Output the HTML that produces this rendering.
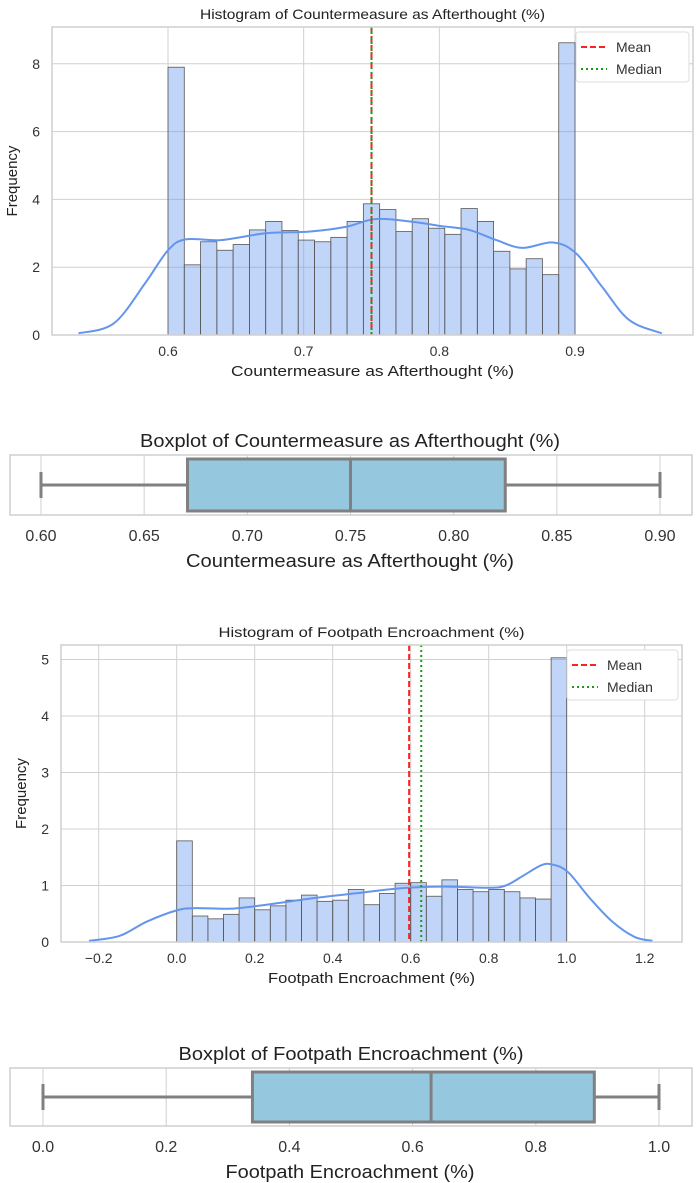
<!DOCTYPE html>
<html><head><meta charset="utf-8">
<style>
html,body{margin:0;padding:0;background:#fff;}
svg{display:block;font-family:"Liberation Sans",Arial,sans-serif;}
</style></head>
<body>
<svg id="c" width="696" height="1183" viewBox="0 0 696 1183"></svg>
<script>
// ---- Data: Countermeasure as Afterthought ----
const h1Counts = [7.9,2.07,2.75,2.5,2.67,3.1,3.35,3.08,2.8,2.75,2.88,3.35,3.87,3.7,3.05,3.43,3.15,2.97,3.73,3.35,2.47,1.95,2.25,1.78,8.62];
const h1KdeX = [0.534,0.560,0.583,0.600,0.613,0.639,0.672,0.704,0.731,0.753,0.780,0.802,0.822,0.842,0.861,0.884,0.901,0.920,0.940,0.964];
const h1KdeY = [0.05,0.34,1.52,2.5,2.82,2.8,3.0,3.05,3.19,3.42,3.34,3.21,3.1,2.8,2.57,2.73,2.4,1.42,0.44,0.05];
const h1XTicks = [0.6,0.7,0.8,0.9];
const h1YTicks = [0,2,4,6,8];
const h1Stats = [0.75,0.75]; // mean, median
const b1Stats = [0.6,0.671,0.75,0.825,0.9]; // min,q1,med,q3,max
const b1Ticks = ["0.60","0.65","0.70","0.75","0.80","0.85","0.90"];
// ---- Data: Footpath Encroachment ----
const h2Counts = [1.79,0.46,0.41,0.49,0.78,0.57,0.64,0.74,0.83,0.72,0.74,0.93,0.66,0.86,1.04,1.05,0.81,1.10,0.93,0.89,0.93,0.89,0.78,0.76,5.03];
const h2KdeX = [-0.225,-0.146,-0.077,0,0.048,0.139,0.23,0.344,0.457,0.571,0.685,0.799,0.844,0.89,0.935,0.964,1.003,1.06,1.117,1.174,1.22];
const h2KdeY = [0.02,0.11,0.36,0.56,0.6,0.59,0.66,0.77,0.86,0.95,0.98,0.96,1.0,1.18,1.36,1.37,1.24,0.77,0.36,0.09,0.02];
const h2XTicks = ["-0.2","0.0","0.2","0.4","0.6","0.8","1.0","1.2"];
const h2YTicks = [0,1,2,3,4,5];
const h2Stats = [0.596,0.627];
const b2Stats = [0,0.34,0.63,0.895,1.0];
const b2Ticks = ["0.0","0.2","0.4","0.6","0.8","1.0"];

const NS="http://www.w3.org/2000/svg";
const svg=document.getElementById('c');
function el(tag,attrs,parent,text){const e=document.createElementNS(NS,tag);for(const k in attrs)e.setAttribute(k,attrs[k]);if(text!==undefined)e.textContent=text;(parent||svg).appendChild(e);return e;}
function smooth(pts){
  let d='M'+pts[0][0]+','+pts[0][1];
  for(let i=0;i<pts.length-1;i++){
    const p0=pts[i-1]||pts[i],p1=pts[i],p2=pts[i+1],p3=pts[i+2]||p2;
    const c1=[p1[0]+(p2[0]-p0[0])/6,p1[1]+(p2[1]-p0[1])/6];
    const c2=[p2[0]-(p3[0]-p1[0])/6,p2[1]-(p3[1]-p1[1])/6];
    d+=` C${c1[0]},${c1[1]} ${c2[0]},${c2[1]} ${p2[0]},${p2[1]}`;
  }
  return d;
}

function hist(cfg,counts,kx,ky,xt,yt,stats,name){
  const g=el('g',{});
  
  
  const X=v=>cfg.x0+(v-cfg.v0)*cfg.kx, Y=v=>cfg.y0-v*cfg.ky;
  el('rect',{x:cfg.L,y:cfg.T,width:cfg.R-cfg.L,height:cfg.B-cfg.T,fill:'#fff'},g);
  xt.forEach(t=>{const v=+t;const x=X(v);
    const l=el('line',{x1:x,x2:x,y1:cfg.T,y2:cfg.B,stroke:'#d0d0d0','stroke-width':1},g);
    
    const tx=el('text',{x:x,y:cfg.B+21,'text-anchor':'middle','font-size':14,fill:'#333'},g,String(t).replace('-','−'));
    });
  yt.forEach(v=>{const y=Y(v);
    const l=el('line',{x1:cfg.L,x2:cfg.R,y1:y,y2:y,stroke:'#d0d0d0','stroke-width':1},g);
    
    const tx=el('text',{x:cfg.L-12,y:y+5,'text-anchor':'end','font-size':14,fill:'#333'},g,String(v));
    });
  const w=(cfg.hi-cfg.lo)/counts.length;
  counts.forEach((c,i)=>{const x1=X(cfg.lo+i*w),x2=X(cfg.lo+(i+1)*w);
    const r=el('rect',{x:x1,y:Y(c),width:x2-x1,height:Y(0)-Y(c),fill:'rgba(100,149,237,0.4)',stroke:'#555','stroke-width':0.8},g);
    });
  const p=el('path',{d:smooth(kx.map((v,i)=>[X(v),Y(ky[i])])),fill:'none',stroke:'#6495ed','stroke-width':2,'stroke-linejoin':'round'},g);
  
  const m=el('line',{x1:X(stats[0]),x2:X(stats[0]),y1:cfg.T,y2:cfg.B,stroke:'#ff2020','stroke-width':2,'stroke-dasharray':'6,3'},g);
  
  const md=el('line',{x1:X(stats[1]),x2:X(stats[1]),y1:cfg.T,y2:cfg.B,stroke:'#1a9a1a','stroke-width':2,'stroke-dasharray':'2,3'},g);
  
  el('rect',{x:cfg.L,y:cfg.T,width:cfg.R-cfg.L,height:cfg.B-cfg.T,fill:'none',stroke:'#cfcfcf','stroke-width':1.5},g);
  // legend
  const lg=el('g',{},g);
  const lx=cfg.legX, ly=cfg.T+5;
  el('rect',{x:lx,y:ly,width:cfg.R-4-lx,height:50,fill:'#fff',stroke:'#ddd',rx:3},lg);
  el('line',{x1:lx+5,x2:lx+31,y1:ly+15,y2:ly+15,stroke:'#ff2020','stroke-width':2,'stroke-dasharray':'6,3'},lg);
  el('text',{x:lx+40,y:ly+20,'font-size':14,fill:'#333'},lg,'Mean');
  el('line',{x1:lx+5,x2:lx+31,y1:ly+37,y2:ly+37,stroke:'#1a9a1a','stroke-width':2,'stroke-dasharray':'2,3'},lg);
  el('text',{x:lx+40,y:ly+42,'font-size':14,fill:'#333'},lg,'Median');
  const t=el('text',{x:(cfg.L+cfg.R)/2,y:cfg.T-8,'text-anchor':'middle','font-size':14,fill:'#222',textLength:cfg.tl,lengthAdjust:'spacingAndGlyphs'},g,cfg.title);
  
  const xl=el('text',{x:(cfg.L+cfg.R)/2,y:cfg.B+41,'text-anchor':'middle','font-size':15,fill:'#222',textLength:cfg.xll,lengthAdjust:'spacingAndGlyphs'},g,cfg.xlabel);
  
  const yl=el('text',{x:0,y:0,transform:`translate(${cfg.L-35},${(cfg.T+cfg.B)/2}) rotate(-90)`,'text-anchor':'middle','font-size':15,fill:'#222'},g,'Frequency');
  
}

function box(cfg,st,ticks,name){
  const g=el('g',{});
  
  
  const X=v=>cfg.x0+(v-cfg.v0)*cfg.kx;
  ticks.forEach(t=>{const x=X(+t);
    const l=el('line',{x1:x,x2:x,y1:cfg.T,y2:cfg.B,stroke:'#d0d0d0','stroke-width':1},g);
    
    const tx=el('text',{x:x,y:cfg.B+26,'text-anchor':'middle','font-size':16,fill:'#333'},g,t);
    });
  el('rect',{x:cfg.L,y:cfg.T,width:cfg.R-cfg.L,height:cfg.B-cfg.T,fill:'none',stroke:'#cfcfcf','stroke-width':1.5},g);
  const my=(cfg.T+cfg.B)/2, bt=cfg.T+4, bb=cfg.B-4;
  const ws=el('g',{},g);
  el('line',{x1:X(st[0]),x2:X(st[1]),y1:my,y2:my,stroke:'#808080','stroke-width':3},ws);
  el('line',{x1:X(st[3]),x2:X(st[4]),y1:my,y2:my,stroke:'#808080','stroke-width':3},ws);
  el('line',{x1:X(st[0]),x2:X(st[0]),y1:my-13,y2:my+13,stroke:'#808080','stroke-width':3},ws);
  el('line',{x1:X(st[4]),x2:X(st[4]),y1:my-13,y2:my+13,stroke:'#808080','stroke-width':3},ws);
  const b=el('rect',{x:X(st[1]),y:bt,width:X(st[3])-X(st[1]),height:bb-bt,fill:'#95c8de',stroke:'#808080','stroke-width':3},g);
  
  const m=el('line',{x1:X(st[2]),x2:X(st[2]),y1:bt,y2:bb,stroke:'#808080','stroke-width':3},g);
  
  const t=el('text',{x:cfg.tc,y:cfg.T-8,'text-anchor':'middle','font-size':18,fill:'#222',textLength:cfg.tl,lengthAdjust:'spacingAndGlyphs'},g,cfg.title);
  
  const xl=el('text',{x:cfg.xc,y:cfg.B+52,'text-anchor':'middle','font-size':18,fill:'#222',textLength:cfg.xll,lengthAdjust:'spacingAndGlyphs'},g,cfg.xlabel);
  
}

hist({L:52,R:693,T:27,B:335,x0:168,v0:0.6,kx:1356.7,y0:335,ky:33.9,lo:0.6,hi:0.9,legX:576,tl:345,xll:283,
  title:'Histogram of Countermeasure as Afterthought (%)',xlabel:'Countermeasure as Afterthought (%)'},
  h1Counts,h1KdeX,h1KdeY,h1XTicks,h1YTicks,h1Stats,'histogram-countermeasure');
box({L:10,R:692,T:455,B:515,x0:41,v0:0.6,kx:2063.3,tl:420,xll:328,tc:350,xc:350,
  title:'Boxplot of Countermeasure as Afterthought (%)',xlabel:'Countermeasure as Afterthought (%)'},
  b1Stats,b1Ticks,'boxplot-countermeasure');
hist({L:61,R:682,T:645,B:942,x0:176.7,v0:0,kx:390,y0:942,ky:56.5,lo:0,hi:1,legX:567,tl:306,xll:207,
  title:'Histogram of Footpath Encroachment (%)',xlabel:'Footpath Encroachment (%)'},
  h2Counts,h2KdeX,h2KdeY,h2XTicks,h2YTicks,h2Stats,'histogram-footpath');
box({L:10,R:692,T:1068,B:1126,x0:43,v0:0,kx:616,tl:345,xll:249,tc:351,xc:350,
  title:'Boxplot of Footpath Encroachment (%)',xlabel:'Footpath Encroachment (%)'},
  b2Stats,b2Ticks,'boxplot-footpath');
</script>
</body></html>
